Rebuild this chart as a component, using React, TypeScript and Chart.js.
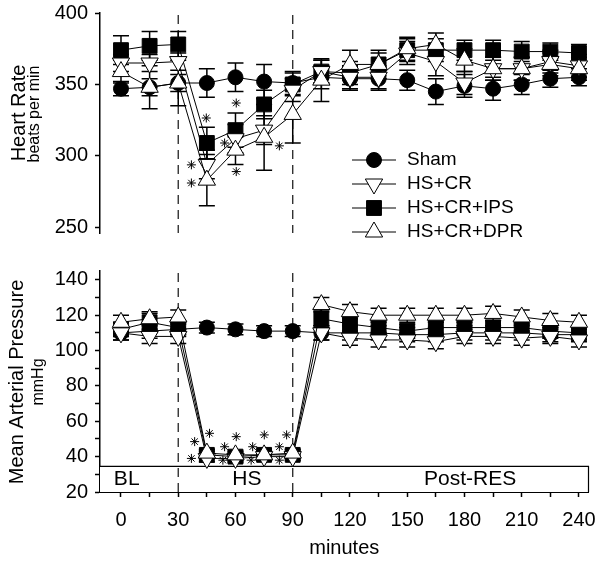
import React, { useEffect, useRef } from 'react';
import { Chart, registerables } from 'chart.js';
import { drawPoint } from 'chart.js/helpers';

Chart.register(...registerables);

const FONT = '"Liberation Sans", Arial, sans-serif';

// ---- data ----
const minutes = [0, 15, 30, 45, 60, 75, 90, 105, 120, 135, 150, 165, 180, 195, 210, 225, 240];
const seriesNames = ['Sham', 'HS+CR', 'HS+CR+IPS', 'HS+CR+DPR'];

// Heart rate (beats per min)
const hrSham = [347, 348, 351, 351, 355, 352, 351, 355, 354, 354, 353, 345, 349, 347, 350, 354, 355];
const hrShamErr = [5, 6, 6, 10, 10, 12, 8, 8, 8, 8, 7, 9, 8, 8, 7, 6, 6];
const hrCR = [365, 365, 366, 294, 312, 318, 346, 359, 355, 355, 372, 366, 351, 361, 361, 366, 363];
const hrCRErr = [6, 6, 6, 10, 10, 10, 8, 8, 8, 8, 8, 10, 8, 8, 8, 8, 8];
const hrIPS = [374, 377, 378, 309, 318, 336, 350, 359, 358, 364, 374, 374, 374, 374, 373, 373, 372];
const hrIPSErr = [10, 10, 9, 11, 12, 10, 8, 8, 8, 8, 8, 8, 7, 7, 7, 6, 6];
const hrDPR = [359, 348, 351, 283, 304, 313, 329, 353, 364, 364, 375, 378, 367, 361, 361, 364, 361];
const hrDPRErr = [8, 15, 16, 18, 10, 23, 20, 15, 10, 10, 8, 8, 8, 8, 8, 8, 8];

// Mean arterial pressure (mmHg)
const mapSham = [110, 111, 112, 113, 112, 111, 111, 110, 110, 110, 109, 109, 110, 110, 110, 109, 109];
const mapShamErr = [4, 4, 4, 3, 3, 3, 3, 4, 4, 4, 4, 4, 4, 4, 4, 4, 4];
const mapCR = [110, 108, 108, 39, 39, 40, 40, 110, 107, 106, 106, 105, 108, 108, 107, 108, 106];
const mapCRErr = [4, 4, 4, 2, 2, 2, 2, 4, 4, 4, 4, 4, 4, 4, 4, 4, 4];
const mapIPS = [112, 116, 113, 41, 40, 41, 41, 118, 115, 113, 111, 113, 113, 113, 113, 111, 110];
const mapIPSErr = [4, 5, 4, 2, 2, 2, 2, 5, 5, 4, 4, 4, 4, 4, 4, 4, 4];
const mapDPR = [116, 118, 119, 42, 41, 41, 42, 126, 122, 120, 120, 120, 120, 121, 119, 117, 116];
const mapDPRErr = [4, 4, 4, 2, 2, 2, 2, 4, 4, 4, 4, 4, 4, 4, 4, 4, 4];

// significance asterisks
const hrStarX = [44.7, 36.9, 36.9, 60.4, 54.3, 60.4, 83];
const hrStarY = [326.5, 293.7, 281, 337, 309, 289, 307];
const mapStarX = [46.4, 38.6, 36.9, 60.4, 54.3, 53.4, 75.1, 69, 68.2, 86.8, 83, 83];
const mapStarY = [53.2, 48.5, 39, 51.3, 45.6, 38, 52.3, 45.6, 38, 52.3, 45.6, 38];

// axes / annotations
const xTickValues = [0, 15, 30, 45, 60, 75, 90, 105, 120, 135, 150, 165, 180, 195, 210, 225, 240];
const hrTickValues = [250, 300, 350, 400];
const mapTickValues = [20, 30, 40, 50, 60, 70, 80, 90, 100, 110, 120, 130, 140];
const phaseBoundaries = [30, 90];
const phaseLabels = ['BL', 'HS', 'Post-RES'];
const phaseLabelX = [3, 66, 183];
const phaseLabelY = 27;
const phaseBandTop = 34.5;

// ---- plugins ----
const errorBarPlugin = {
  id: 'errorBars',
  beforeDatasetsDraw(chart: any) {
    const { ctx } = chart;
    const yS = chart.scales.y;
    chart.data.datasets.forEach((ds: any, i: number) => {
      if (!ds.errors) return;
      const meta = chart.getDatasetMeta(i);
      meta.data.forEach((pt: any, j: number) => {
        const v = ds.data[j].y;
        const e = ds.errors[j];
        const yt = yS.getPixelForValue(v + e);
        const yb = yS.getPixelForValue(v - e);
        ctx.save();
        ctx.strokeStyle = '#000';
        ctx.lineWidth = 1.5;
        ctx.beginPath();
        ctx.moveTo(pt.x, yt);
        ctx.lineTo(pt.x, yb);
        ctx.moveTo(pt.x - 8, yt);
        ctx.lineTo(pt.x + 8, yt);
        ctx.moveTo(pt.x - 8, yb);
        ctx.lineTo(pt.x + 8, yb);
        ctx.stroke();
        ctx.restore();
      });
    });
  },
};

const bandPlugin = {
  id: 'phaseBand',
  beforeDatasetsDraw(chart: any) {
    const { ctx, chartArea } = chart;
    const yS = chart.scales.y;
    const xS = chart.scales.x;
    const top = yS.getPixelForValue(phaseBandTop);
    ctx.save();
    ctx.fillStyle = '#fff';
    ctx.fillRect(chartArea.left, top, chartArea.right - chartArea.left, chartArea.bottom - top);
    ctx.strokeStyle = '#000';
    ctx.lineWidth = 1.2;
    ctx.beginPath();
    ctx.moveTo(chartArea.left, top);
    ctx.lineTo(chartArea.right, top);
    ctx.lineTo(chartArea.right, chartArea.bottom);
    ctx.stroke();
    ctx.fillStyle = '#000';
    ctx.font = `21px ${FONT}`;
    ctx.textAlign = 'center';
    ctx.textBaseline = 'middle';
    phaseLabels.forEach((t, i) => {
      ctx.fillText(t, xS.getPixelForValue(phaseLabelX[i]), yS.getPixelForValue(phaseLabelY));
    });
    ctx.restore();
  },
};

const guidePlugin = {
  id: 'phaseGuides',
  beforeDatasetsDraw(chart: any) {
    const { ctx, chartArea } = chart;
    const xS = chart.scales.x;
    ctx.save();
    ctx.strokeStyle = '#222';
    ctx.lineWidth = 1.3;
    ctx.setLineDash([9, 6]);
    phaseBoundaries.forEach((b) => {
      const x = xS.getPixelForValue(b);
      ctx.beginPath();
      ctx.moveTo(x, chartArea.top + 2);
      ctx.lineTo(x, chartArea.bottom);
      ctx.stroke();
    });
    ctx.restore();
  },
};

const makeTitlePlugin = (items: { text: string; size: number; x: number; y: number }[]) => ({
  id: 'sideTitles',
  afterDraw(chart: any) {
    const { ctx } = chart;
    items.forEach((it) => {
      ctx.save();
      ctx.translate(it.x, it.y);
      ctx.rotate(-Math.PI / 2);
      ctx.fillStyle = '#000';
      ctx.font = `${it.size}px ${FONT}`;
      ctx.textAlign = 'center';
      ctx.textBaseline = 'middle';
      ctx.fillText(it.text, 0, 0);
      ctx.restore();
    });
  },
});

const legendPlugin = {
  id: 'inLegend',
  afterDraw(chart: any) {
    const { ctx } = chart;
    seriesNames.forEach((_, i) => {
      const ds = chart.data.datasets[i];
      const y = 160 + i * 24;
      ctx.save();
      ctx.strokeStyle = '#000';
      ctx.lineWidth = 1;
      ctx.beginPath();
      ctx.moveTo(352, y);
      ctx.lineTo(396, y);
      ctx.stroke();
      ctx.fillStyle = ds.pointBackgroundColor;
      ctx.strokeStyle = '#000';
      ctx.lineWidth = 1;
      drawPoint(ctx, { pointStyle: ds.pointStyle, rotation: ds.pointRotation || 0, radius: ds.pointRadius, borderWidth: 1 } as any, 374, y);
      ctx.fillStyle = '#000';
      ctx.font = `19px ${FONT}`;
      ctx.textAlign = 'left';
      ctx.textBaseline = 'middle';
      ctx.fillText(ds.label, 407, y);
      ctx.restore();
    });
  },
};

// ---- helpers ----
const toXY = (xs: number[], ys: number[]) => xs.map((x, i) => ({ x, y: ys[i] }));

const styles = [
  { pointStyle: 'circle', pointRadius: 7.5, pointBackgroundColor: '#000', pointRotation: 0, order: 2 },
  { pointStyle: 'triangle', pointRadius: 10, pointBackgroundColor: '#fff', pointRotation: 180, order: 1 },
  { pointStyle: 'rect', pointRadius: 10.5, pointBackgroundColor: '#000', pointRotation: 0, order: 3 },
  { pointStyle: 'triangle', pointRadius: 10, pointBackgroundColor: '#fff', pointRotation: 0, order: 0 },
];

function buildDatasets(values: number[][], errors: number[][], starX: number[], starY: number[]) {
  const ds: any[] = values.map((vals, i) => ({
    label: seriesNames[i],
    data: toXY(minutes, vals),
    errors: errors[i],
    borderColor: '#000',
    borderWidth: 1,
    pointBorderColor: '#000',
    pointBorderWidth: 1,
    ...styles[i],
    pointHoverRadius: styles[i].pointRadius,
  }));
  ds.push({
    label: 'sig',
    data: toXY(starX, starY),
    showLine: false,
    pointStyle: 'star',
    pointRadius: 4.5,
    pointBorderColor: '#000',
    pointBorderWidth: 1,
    borderColor: '#000',
    order: -1,
  });
  return ds;
}

const tickFont = { family: FONT, size: 20 };

const zeroPad = (s: any) => {
  s.paddingTop = 0;
  s.paddingBottom = 0;
  s.paddingLeft = 0;
  s.paddingRight = 0;
};

export default function App() {
  const topRef = useRef<HTMLCanvasElement>(null);
  const botRef = useRef<HTMLCanvasElement>(null);

  useEffect(() => {
    const top = new Chart(topRef.current!, {
      type: 'line',
      data: {
        datasets: buildDatasets([hrSham, hrCR, hrIPS, hrDPR], [hrShamErr, hrCRErr, hrIPSErr, hrDPRErr], hrStarX, hrStarY),
      },
      options: {
        responsive: false,
        animation: false,
        layout: { padding: { left: 0, right: 9.4, top: 13, bottom: 17 } },
        plugins: { legend: { display: false }, tooltip: { enabled: false } },
        scales: {
          x: { type: 'linear', min: -11, max: 245, display: false },
          y: {
            min: 246,
            max: 400,
            afterBuildTicks: (s: any) => {
              s.ticks = hrTickValues.map((v) => ({ value: v }));
            },
            afterFit: (s: any) => {
              s.width = 100;
              zeroPad(s);
            },
            ticks: { font: tickFont, color: '#000', padding: 7 },
            grid: { drawOnChartArea: false, drawTicks: true, tickLength: 5, tickColor: '#000', tickWidth: 1.5 },
            border: { display: true, color: '#000', width: 1.5 },
          },
        },
      } as any,
      plugins: [
        guidePlugin,
        errorBarPlugin,
        legendPlugin,
        makeTitlePlugin([
          { text: 'Heart Rate', size: 20, x: 19, y: 113 },
          { text: 'beats per min', size: 16, x: 35, y: 114 },
        ]),
      ],
    });

    const bot = new Chart(botRef.current!, {
      type: 'line',
      data: {
        datasets: buildDatasets([mapSham, mapCR, mapIPS, mapDPR], [mapShamErr, mapCRErr, mapIPSErr, mapDPRErr], mapStarX, mapStarY),
      },
      options: {
        responsive: false,
        animation: false,
        layout: { padding: { left: 0, right: 9.4, top: 21, bottom: 2 } },
        plugins: { legend: { display: false }, tooltip: { enabled: false } },
        scales: {
          x: {
            type: 'linear',
            min: -11,
            max: 245,
            afterBuildTicks: (s: any) => {
              s.ticks = xTickValues.map((v) => ({ value: v }));
            },
            afterFit: (s: any) => {
              s.height = 68;
              zeroPad(s);
            },
            ticks: {
              font: tickFont,
              color: '#000',
              padding: 11,
              maxRotation: 0,
              autoSkip: false,
              callback: (v: any) => (Number(v) % 30 === 0 ? String(v) : ''),
            },
            grid: { drawOnChartArea: false, drawTicks: true, tickLength: 5, tickColor: '#000', tickWidth: 1.5 },
            border: { display: true, color: '#000', width: 2 },
            title: { display: true, text: 'minutes', font: { family: FONT, size: 20 }, color: '#000', padding: { top: 4, bottom: 0 } },
          },
          y: {
            min: 20,
            max: 145,
            afterBuildTicks: (s: any) => {
              s.ticks = mapTickValues.map((v) => ({ value: v }));
            },
            afterFit: (s: any) => {
              s.width = 100;
              zeroPad(s);
            },
            ticks: {
              font: tickFont,
              color: '#000',
              padding: 7,
              autoSkip: false,
              callback: (v: any) => (Number(v) % 20 === 0 ? String(v) : ''),
            },
            grid: { drawOnChartArea: false, drawTicks: true, tickLength: 5, tickColor: '#000', tickWidth: 1.5 },
            border: { display: true, color: '#000', width: 1.5 },
          },
        },
      } as any,
      plugins: [
        bandPlugin,
        guidePlugin,
        errorBarPlugin,
        makeTitlePlugin([
          { text: 'Mean Arterial Pressure', size: 20, x: 17, y: 132 },
          { text: 'mmHg', size: 16, x: 39, y: 132 },
        ]),
      ],
    });

    return () => {
      top.destroy();
      bot.destroy();
    };
  }, []);

  return (
    <div style={{ position: 'absolute', left: 0, top: 0, width: 600, height: 562, background: '#fff' }}>
      <canvas ref={topRef} width={600} height={250} style={{ position: 'absolute', left: 0, top: 0, display: 'block' }} />
      <canvas ref={botRef} width={600} height={312} style={{ position: 'absolute', left: 0, top: 250, display: 'block' }} />
    </div>
  );
}
